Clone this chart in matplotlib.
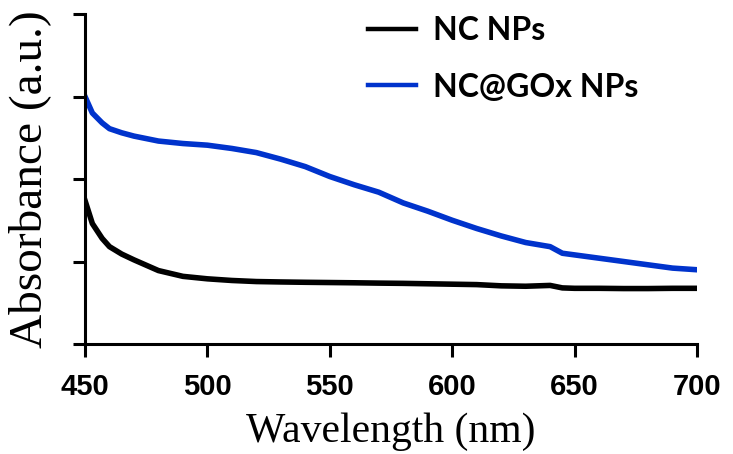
import matplotlib.pyplot as plt

# UV-vis absorbance spectra of the two nanoparticle samples
wavelength = [450, 453, 457, 460, 465, 470, 480, 490, 500, 510, 520, 530, 540, 550,
              560, 570, 580, 590, 600, 610, 620, 630, 640, 645, 650, 660, 670, 680,
              690, 700]
nc_nps = [1.74, 1.46, 1.28, 1.18, 1.09, 1.02, 0.89, 0.82, 0.79, 0.77, 0.757, 0.752,
          0.748, 0.745, 0.742, 0.738, 0.735, 0.73, 0.725, 0.72, 0.705, 0.70, 0.71,
          0.68, 0.675, 0.675, 0.672, 0.672, 0.675, 0.675]
nc_gox_nps = [3.00, 2.80, 2.68, 2.61, 2.56, 2.52, 2.46, 2.43, 2.41, 2.37, 2.32, 2.24,
              2.15, 2.03, 1.93, 1.84, 1.71, 1.61, 1.50, 1.40, 1.31, 1.23, 1.18, 1.10,
              1.08, 1.04, 1.00, 0.96, 0.92, 0.90]
labels = ['NC NPs', 'NC@GOx NPs']
xticks = [450, 500, 550, 600, 650, 700]

fig = plt.figure(figsize=(7.33, 4.54), dpi=100)
ax = fig.add_axes([85 / 733, 110 / 454, 612 / 733, 330 / 454])

ax.plot(wavelength, nc_nps, color='black', lw=4, label=labels[0])
ax.plot(wavelength, nc_gox_nps, color='#0033CC', lw=4, label=labels[1])

ax.set_xlim(450, 700)
ax.set_ylim(0, 4)
ax.set_xticks(xticks)
ax.set_yticks([0, 1, 2, 3, 4])
ax.set_yticklabels([])

for s in ['top', 'right']:
    ax.spines[s].set_visible(False)
for s in ['left', 'bottom']:
    ax.spines[s].set_linewidth(2.2)
ax.tick_params(axis='both', direction='out', width=2.2, length=9, color='black')
ax.tick_params(axis='x', pad=12)
for t in ax.get_xticklabels():
    t.set_fontfamily('Liberation Sans')
    t.set_fontweight('bold')
    t.set_fontsize(21)

ax.set_xlabel('Wavelength (nm)', family='Liberation Serif', fontsize=30, labelpad=8)
ax.set_ylabel('Absorbance (a.u.)', family='Liberation Serif', fontsize=34, labelpad=12)

leg = ax.legend(loc='upper left', bbox_to_anchor=(0.415, 1.08), frameon=False,
                prop={'family': 'Lato', 'weight': 'bold', 'size': 23},
                handlelength=1.5, handletextpad=0.55, labelspacing=0.85)
for line in leg.get_lines():
    line.set_linewidth(3.2)

fig.savefig('out.png', dpi=100)
